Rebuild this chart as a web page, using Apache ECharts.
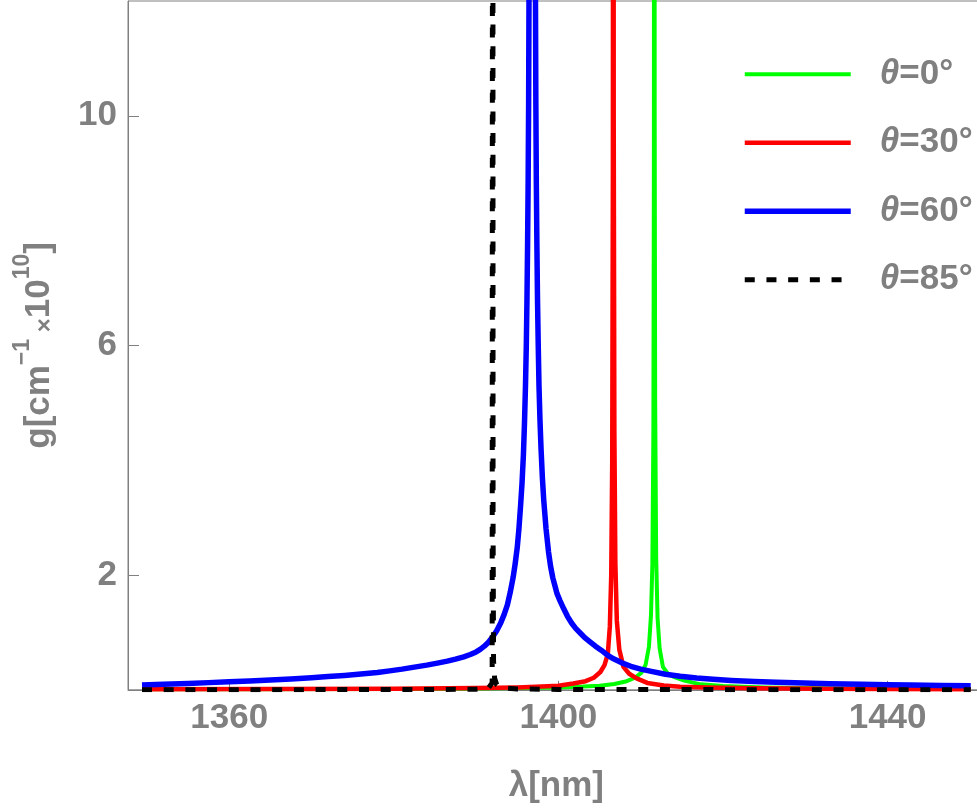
<!DOCTYPE html>
<html>
<head>
<meta charset="utf-8">
<script src="https://cdn.jsdelivr.net/npm/echarts@6.0.0/dist/echarts.min.js"></script>
<style>
  html, body { margin: 0; padding: 0; background: #fff; }
  #chart { width: 977px; height: 809px; }
</style>
</head>
<body>
<div id="chart"></div>
<script>
// values (lambda in nm, g in 1e10 cm^-1)
const names = ['θ=0°', 'θ=30°', 'θ=60°', 'θ=85°']
const xTicks = [1360, 1400, 1440]
const yTicks = [2, 6, 10]

const lam0 = [1349.4, 1365, 1380, 1390, 1395, 1400, 1403, 1405, 1406.8, 1408.3, 1409.3, 1410.1, 1410.6, 1411.0, 1411.25, 1411.42, 1411.54, 1411.6, 1411.65, 1411.7, 1411.76, 1411.88, 1412.05, 1412.3, 1412.7, 1413.3, 1414.1, 1415.3, 1417.3, 1420, 1425, 1432, 1440, 1450.1]
const g0 = [0.008, 0.011, 0.016, 0.023, 0.03, 0.042, 0.056, 0.072, 0.1, 0.15, 0.21, 0.30, 0.44, 0.75, 1.3, 2.2, 4.5, 9, 30, 10, 5, 2.3, 1.25, 0.72, 0.4, 0.28, 0.22, 0.16, 0.095, 0.065, 0.04, 0.026, 0.018, 0.013]

const lam30 = [1349.4, 1365, 1380, 1390, 1395, 1398, 1400, 1401.8, 1403.3, 1404.3, 1405.1, 1405.6, 1406.0, 1406.25, 1406.42, 1406.54, 1406.62, 1406.67, 1406.72, 1406.8, 1406.92, 1407.1, 1407.4, 1407.9, 1408.6, 1409.5, 1410.8, 1412.8, 1414.8, 1418, 1424, 1432, 1440, 1450.1]
const g30 = [0.009, 0.012, 0.018, 0.03, 0.042, 0.057, 0.072, 0.11, 0.15, 0.21, 0.31, 0.43, 0.62, 1.1, 2.0, 4, 9, 30, 10, 4.5, 2.2, 1.2, 0.7, 0.4, 0.28, 0.2, 0.12, 0.075, 0.055, 0.04, 0.027, 0.019, 0.014, 0.01]

const lam60 = [1349.4, 1352, 1355, 1357.5, 1360, 1362.5, 1365, 1367.5, 1370, 1372, 1374, 1376, 1378, 1379.5, 1381, 1382.5, 1384, 1385.3, 1386.5, 1387.5, 1388.5, 1389.3, 1390, 1390.5, 1391, 1391.5, 1392, 1392.5, 1393, 1393.4, 1393.8, 1394.15, 1394.5, 1394.75, 1395, 1395.2, 1395.4, 1395.58, 1395.75, 1395.88, 1396.0, 1396.1, 1396.18, 1396.25, 1396.32, 1396.38, 1396.425, 1396.55, 1396.82,
  1397.09, 1397.215, 1397.26, 1397.32, 1397.39, 1397.46, 1397.55, 1397.64, 1397.76, 1397.89, 1398.05, 1398.22, 1398.5, 1398.8, 1399.05, 1399.32, 1399.6, 1399.82, 1400.2, 1400.62, 1401.1, 1401.62, 1402.1, 1402.65, 1403.2, 1403.8, 1404.5, 1405.2, 1406, 1406.7, 1407.7, 1408.8, 1410, 1411.3, 1413, 1414.8, 1416.8, 1418.8, 1421, 1423.8, 1426.5, 1429.8, 1433, 1436.8, 1440, 1442.8, 1446.5, 1450.1]
const g60 = [0.085, 0.097, 0.11, 0.125, 0.14, 0.155, 0.17, 0.19, 0.21, 0.23, 0.25, 0.275, 0.3, 0.33, 0.36, 0.395, 0.43, 0.465, 0.5, 0.535, 0.575, 0.615, 0.66, 0.705, 0.76, 0.83, 0.92, 1.03, 1.17, 1.31, 1.48, 1.7, 1.96, 2.2, 2.48, 2.8, 3.2, 3.6, 4.1, 4.65, 5.3, 6.0, 6.8, 7.7, 8.8, 10.2, 12, 17, 30,
  17, 12, 10.2, 8.8, 7.7, 6.8, 6.0, 5.3, 4.7, 4.2, 3.7, 3.3, 2.8, 2.4, 2.15, 1.95, 1.8, 1.68, 1.55, 1.42, 1.28, 1.16, 1.07, 0.99, 0.91, 0.84, 0.76, 0.69, 0.6, 0.54, 0.47, 0.41, 0.36, 0.32, 0.27, 0.235, 0.205, 0.182, 0.163, 0.145, 0.13, 0.117, 0.106, 0.096, 0.089, 0.083, 0.076, 0.07]

const lam85 = [1349.4, 1370, 1385, 1390, 1391.5, 1391.95, 1392.02, 1392.06, 1392.12, 1392.25, 1392.5, 1393, 1395, 1400, 1420, 1450.1]
const g85 = [0.002, 0.003, 0.005, 0.01, 0.03, 0.12, 30, 3, 0.5, 0.2, 0.09, 0.04, 0.015, 0.006, 0.003, 0.002]

const gray = '#808080'
const font = 'Liberation Sans'

function zip(xs, ys) {
  return xs.map((x, i) => [x, ys[i]])
}

const lines = [
  { x: lam0, y: g0, color: '#00ff00', width: 4 },
  { x: lam30, y: g30, color: '#ff0000', width: 4.5 },
  { x: lam60, y: g60, color: '#0000ff', width: 5.5 },
  { x: lam85, y: g85, color: '#000000', width: 5, dash: [10, 11.7] }
]

const chart = echarts.init(document.getElementById('chart'))
chart.setOption({
  animation: false,
  grid: {
    left: 128,
    top: 1,
    width: 856.7,
    height: 688.8,
    outerBoundsMode: 'none',
    show: true,
    borderColor: gray,
    borderWidth: 1
  },
  legend: {
    left: 742,
    top: 56.8,
    orient: 'vertical',
    padding: 0,
    itemWidth: 106,
    itemHeight: 36,
    itemGap: 33.5,
    itemStyle: { opacity: 0 },
    data: names.map((n, i) => ({
      name: n,
      lineStyle: { width: lines[i].width, type: lines[i].dash || 'solid', cap: 'butt', opacity: 1 }
    })),
    formatter: n => '{t|θ}{n|' + n.slice(1) + '}',
    textStyle: {
      fontFamily: font,
      fontSize: 35,
      fontWeight: 'bold',
      color: gray,
      padding: [0, 0, 0, 24],
      rich: {
        t: { fontFamily: font, fontSize: 35, fontWeight: 'bold', fontStyle: 'italic', color: gray, lineHeight: 36 },
        n: { fontFamily: font, fontSize: 35, fontWeight: 'bold', color: gray, lineHeight: 36 }
      }
    }
  },
  xAxis: {
    type: 'value',
    min: 1347.7,
    max: 1451.8,
    name: 'λ[nm]',
    nameLocation: 'middle',
    nameGap: 79,
    nameTextStyle: { fontFamily: font, fontSize: 35, fontWeight: 'bold', color: gray },
    axisLine: { lineStyle: { color: gray, width: 1 } },
    axisTick: { inside: true, length: 9, customValues: xTicks, lineStyle: { color: gray } },
    axisLabel: {
      customValues: xTicks,
      formatter: v => String(v),
      margin: 11,
      fontFamily: font, fontSize: 35, fontWeight: 'bold', color: gray
    },
    splitLine: { show: false }
  },
  yAxis: {
    type: 'value',
    min: 0,
    max: 12,
    name: '{a|g[cm}{s|−1}{x| ×}{a|10}{s|10}{a|]}',
    nameLocation: 'middle',
    nameRotate: 90,
    nameGap: 71,
    nameTextStyle: {
      rich: {
        a: { fontFamily: font, fontSize: 35, fontWeight: 'bold', color: gray, lineHeight: 46, verticalAlign: 'bottom' },
        s: { fontFamily: font, fontSize: 23, fontWeight: 'bold', color: gray, lineHeight: 23, verticalAlign: 'top' },
        x: { fontFamily: font, fontSize: 24, fontWeight: 'bold', color: gray, lineHeight: 40, verticalAlign: 'bottom' }
      }
    },
    axisLine: { lineStyle: { color: gray, width: 1 } },
    axisTick: { inside: true, length: 11, customValues: yTicks, lineStyle: { color: gray } },
    axisLabel: { customValues: yTicks, margin: 11, fontFamily: font, fontSize: 35, fontWeight: 'bold', color: gray },
    splitLine: { show: false }
  },
  series: lines.map((l, i) => ({
    name: names[i],
    type: 'line',
    symbol: 'none',
    clip: true,
    data: zip(l.x, l.y),
    lineStyle: { color: l.color, width: l.width, type: l.dash || 'solid', cap: 'butt', join: 'round' },
    itemStyle: { color: l.color }
  }))
})
</script>
</body>
</html>
